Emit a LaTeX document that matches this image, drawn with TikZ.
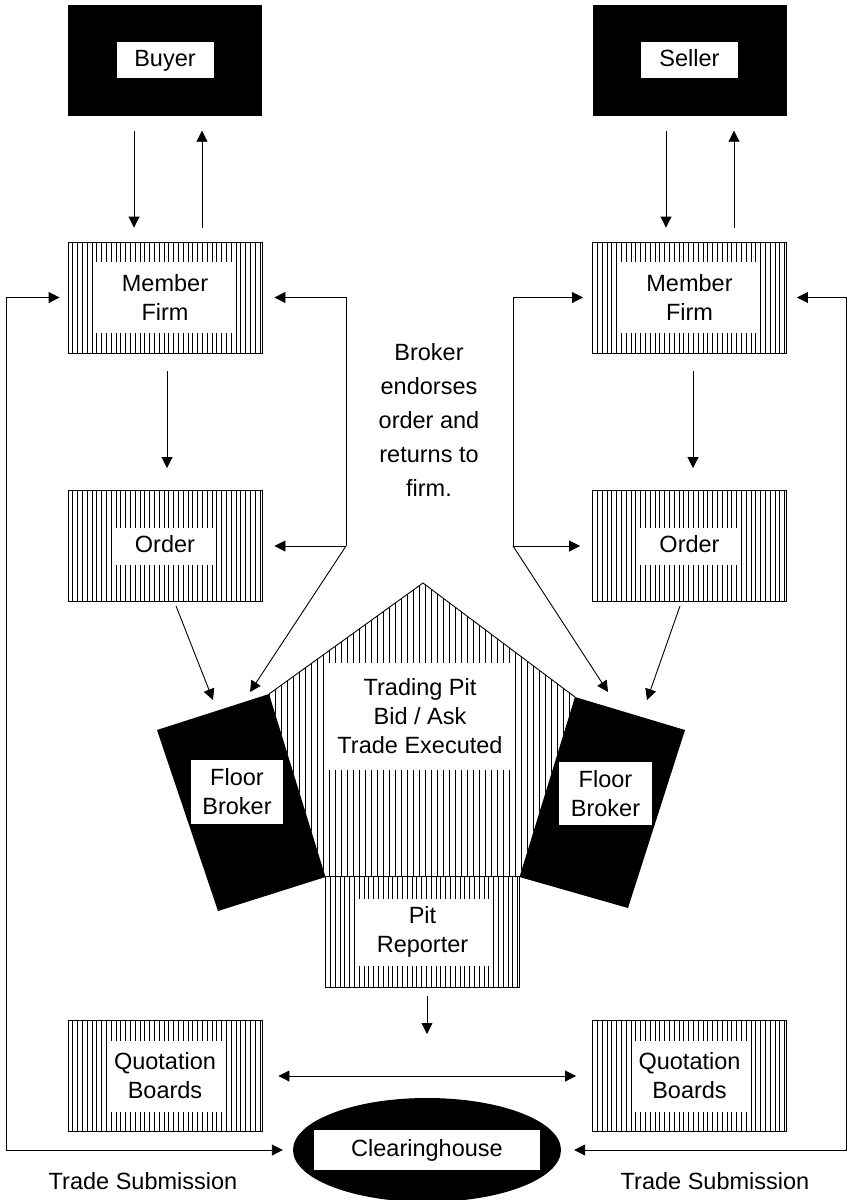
\documentclass[tikz,border=0pt]{standalone}
\usepackage{fontspec}
\setmainfont{Liberation Sans}
\usetikzlibrary{arrows.meta,shapes.geometric}

\tikzset{
  lbl/.style={font=\fontsize{23.5}{29}\selectfont, align=center, inner sep=0pt},
  oneline/.style={text height=17pt, text depth=5pt},
  hatchbox/.style 2 args={lbl, draw, line width=0.9pt,
    minimum width=194pt, minimum height=111pt,
    path picture={
      \foreach \i in {0,...,40}
        \draw[line width=0.8pt]
          ([xshift=\i*4.8pt]path picture bounding box.north west) --
          ([xshift=\i*4.8pt]path picture bounding box.south west);
      \fill[white]
        ([xshift=#1,yshift=-#2]path picture bounding box.north west) rectangle
        ([xshift=-#1,yshift=#2]path picture bounding box.south east);
    }},
  blackbox/.style 2 args={lbl, oneline, fill=black,
    minimum width=194pt, minimum height=111pt,
    path picture={
      \fill[white]
        ([xshift=-#1/2,yshift=-#2/2]path picture bounding box.center) rectangle
        ([xshift=#1/2,yshift=#2/2]path picture bounding box.center);
    }},
  whitetag/.style 2 args={lbl, fill=white, minimum width=#1, minimum height=#2},
  arr/.style={-{Triangle[length=11pt,width=11pt]}, line width=0.9pt},
  arrboth/.style={{Triangle[length=11pt,width=11pt]}-{Triangle[length=11pt,width=11pt]},
    line width=0.9pt}
}

\begin{document}
\begin{tikzpicture}[x=1pt, y=-1pt]

\useasboundingbox (0,0) rectangle (851,1200); %% page

%% top row
\node[blackbox={97pt}{36pt}] (buyer) at (165,60) {Buyer};
\node[blackbox={97pt}{36pt}] (seller) at (689.5,60) {Seller};

\node[hatchbox={27pt}{20pt}] (mfL) at (165,297.5) {Member\\Firm};
\node[hatchbox={27pt}{20pt}] (mfR) at (689.5,297.5) {Member\\Firm};

\node[hatchbox={47pt}{37pt}, oneline] (ordL) at (165,546) {Order};
\node[hatchbox={47pt}{37pt}, oneline] (ordR) at (689.5,546) {Order};

\node[lbl, font=\fontsize{23.5}{34}\selectfont] (brk) at (429,420)
  {Broker\\endorses\\order and\\returns to\\firm.};

%% trading pit
\coordinate (apex) at (423,583);
\coordinate (shL) at (269,694);
\coordinate (shR) at (575,697);
\coordinate (btL) at (325.5,877);
\coordinate (btR) at (519.5,877);

\begin{scope}
\clip (apex) -- (shR) -- (btR) -- (btL) -- (shL) -- cycle;
\foreach \x in {269,275,...,575}
  \draw[line width=0.8pt] (\x,580) -- (\x,880);
\end{scope}
\draw[line width=0.9pt] (shL) -- (apex) -- (shR);

\node[whitetag={182pt}{107pt}] (pit) at (420,716)
  {Trading Pit\\Bid / Ask\\Trade Executed};

%% floor brokers
\fill (157,730) -- (shL) -- (btL) -- (218,911) -- cycle;
\fill (shR) -- (685,730) -- (628,908) -- (btR) -- cycle;
\node[whitetag={92pt}{64pt}] (fbL) at (237,792) {Floor\\Broker};
\node[whitetag={93pt}{63pt}] (fbR) at (605.5,793.5) {Floor\\Broker};
\coordinate (fbLa) at (213,700);
\coordinate (fbLb) at (250,692);
\coordinate (fbRa) at (608,692);
\coordinate (fbRb) at (647,700);

\node[hatchbox={30pt}{22pt}] (pr) at (422.5,932) {Pit\\Reporter};

\node[hatchbox={40pt}{20pt}] (qbL) at (165,1076) {Quotation\\Boards};
\node[hatchbox={40pt}{20pt}] (qbR) at (689.5,1076) {Quotation\\Boards};

\node[ellipse, lbl, oneline, fill=black, minimum width=268pt, minimum height=104pt,
  path picture={
    \fill[white]
      ([xshift=-113pt,yshift=-20pt]path picture bounding box.center) rectangle
      ([xshift=113pt,yshift=20pt]path picture bounding box.center);
  }] (ch) at (427,1150) {Clearinghouse};

\node[lbl, oneline] (tsL) at (143,1183) {Trade Submission};
\node[lbl, oneline] (tsR) at (715,1183) {Trade Submission};

%% connectors
\draw[arr, shorten <=15pt, shorten >=14pt]
  ([xshift=-31pt]buyer.south) -- ([xshift=-31pt]mfL.north);
\draw[arr, shorten <=14pt, shorten >=15pt]
  ([xshift=37pt]mfL.north) -- ([xshift=37pt]buyer.south);
\draw[arr, shorten <=15pt, shorten >=14pt]
  ([xshift=-23.5pt]seller.south) -- ([xshift=-23.5pt]mfR.north);
\draw[arr, shorten <=14pt, shorten >=15pt]
  ([xshift=44.5pt]mfR.north) -- ([xshift=44.5pt]seller.south);

\draw[arr, shorten <=18pt, shorten >=22pt]
  ([xshift=2pt]mfL.south) -- ([xshift=2pt]ordL.north);
\draw[arr, shorten <=18pt, shorten >=22pt]
  ([xshift=3.5pt]mfR.south) -- ([xshift=3.5pt]ordR.north);

\coordinate (jL) at (346,546);
\coordinate (jR) at (513,546);
\draw[arr, shorten >=12pt] (jL) |- (mfL.east);
\draw[arr, shorten >=12pt] (jL) -- (ordL.east);
\draw[arr] (jL) -- (fbLb);
\draw[arr, shorten >=9pt] (jR) |- (mfR.west);
\draw[arr, shorten >=12pt] (jR) -- (ordR.west);
\draw[arr] (jR) -- (fbRa);

\draw[arr] ([xshift=11pt,yshift=-4pt]ordL.south) -- (fbLa);
\draw[arr] ([xshift=-9.5pt,yshift=-4pt]ordR.south) -- (fbRb);

\coordinate (oL) at (6,1150);
\coordinate (oR) at (846,1150);
\draw[arrboth, shorten <=8pt, shorten >=10pt] (mfL.west) -| (oL) -- (ch.west);
\draw[arrboth, shorten <=10pt, shorten >=13pt] (mfR.east) -| (oR) -- (ch.east);

\draw[arr, shorten <=8pt, shorten >=42pt]
  ([xshift=4.5pt]pr.south) -- ([xshift=4.5pt]pr.south |- qbL.east);
\draw[arrboth, shorten <=16pt, shorten >=16pt] (qbL.east) -- (qbR.west);

\end{tikzpicture}
\end{document}
